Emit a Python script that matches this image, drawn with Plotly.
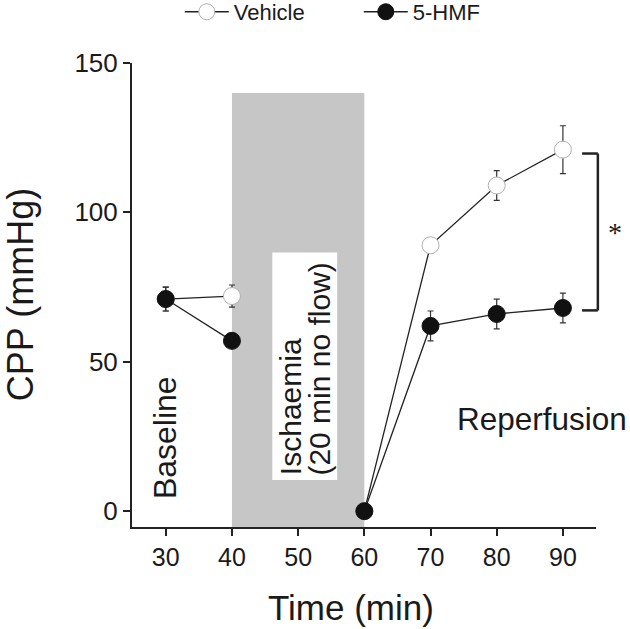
import plotly.graph_objects as go

# time points (min); 50 is left empty so the lines break over the ischaemia
minutes = [30, 40, 50, 60, 70, 80, 90]
vehicle = [71, 72, None, 0, 89, 109, 121]
vehicle_err = [4, 3.7, None, 0, 2.5, 5, 8]
hmf = [71, 57, None, 0, 62, 66, 68]
hmf_err = [4, 2, None, 0, 5, 5, 5]

x_ticks = [30, 40, 50, 60, 70, 80, 90]
y_ticks = [0, 50, 100, 150]

FONT = "Liberation Sans, Arial, Helvetica, sans-serif"

fig = go.Figure()

# Vehicle - open circles
fig.add_trace(go.Scatter(
    x=minutes, y=vehicle, name='Vehicle', mode='lines+markers',
    line=dict(color='#222222', width=1.3),
    marker=dict(size=17, color='white', line=dict(color='#b0b0b0', width=1)),
    error_y=dict(type='data', array=vehicle_err, color='#333333', thickness=1.2, width=3),
    cliponaxis=False,
))

# 5-HMF - filled circles
fig.add_trace(go.Scatter(
    x=minutes, y=hmf, name='5-HMF', mode='lines+markers',
    line=dict(color='#222222', width=1.3),
    marker=dict(size=17, color='#111111', line=dict(color='#111111', width=1)),
    error_y=dict(type='data', array=hmf_err, color='#333333', thickness=1.2, width=3),
    cliponaxis=False,
))

# ischaemia period
fig.add_shape(type='rect', xref='x', yref='y', x0=40, x1=60, y0=-5.3, y1=140,
              fillcolor='#c6c6c6', line=dict(width=0), layer='below')
fig.add_shape(type='rect', xref='x', yref='y', x0=46.1, x1=55.9, y0=10.4, y1=86.6,
              fillcolor='white', line=dict(width=0), layer='below')

# significance bracket
bk = dict(color='#222222', width=2.5)
fig.add_shape(type='line', xref='paper', yref='y', x0=0.970, x1=1.004, y0=119.7, y1=119.7, line=bk)
fig.add_shape(type='line', xref='paper', yref='y', x0=0.970, x1=1.004, y0=67.2, y1=67.2, line=bk)
fig.add_shape(type='line', xref='paper', yref='y', x0=1.004, x1=1.004, y0=119.7, y1=67.2, line=bk)

txt = dict(family=FONT, size=30, color='#1a1a1a')
annotations = [
    dict(x=29.8, y=24.6, xref='x', yref='y', text='Baseline', textangle=-90,
         showarrow=False, font=dict(family=FONT, size=32, color='#1a1a1a'),
         xanchor='center', yanchor='middle'),
    dict(x=48.85, y=11.4, xref='x', yref='y', text='Ischaemia', textangle=-90,
         showarrow=False, font=txt, xanchor='center', yanchor='bottom'),
    dict(x=53.3, y=11.4, xref='x', yref='y', text='(20 min no flow)', textangle=-90,
         showarrow=False, font=txt, xanchor='center', yanchor='bottom'),
    dict(x=86.8, y=30.8, xref='x', yref='y', text='Reperfusion',
         showarrow=False, font=dict(family=FONT, size=31.5, color='#1a1a1a'),
         xanchor='center', yanchor='middle'),
    dict(x=1.041, y=93.3, xref='paper', yref='y', text='*',
         showarrow=False, font=dict(family='Liberation Serif, Times New Roman, serif', size=28, color='#1a1a1a'),
         xanchor='center', yanchor='middle'),
    dict(x=-0.241, y=0.5, xref='paper', yref='paper', text='CPP (mmHg)', textangle=-90,
         showarrow=False, font=dict(family=FONT, size=36, color='#1a1a1a'),
         xanchor='center', yanchor='middle'),
    dict(x=0.472, y=-0.173, xref='paper', yref='paper', text='Time (min)',
         showarrow=False, font=dict(family=FONT, size=35, color='#1a1a1a'),
         xanchor='center', yanchor='middle'),
]

fig.update_layout(
    width=630, height=629,
    margin=dict(l=132, r=34, t=63, b=102),
    plot_bgcolor='white', paper_bgcolor='white',
    font=dict(family=FONT, color='#1a1a1a'),
    showlegend=True,
    legend=dict(orientation='h', xref='paper', yref='container',
                x=0.103, y=0.981, xanchor='left', yanchor='middle',
                font=dict(family=FONT, size=22, color='#1a1a1a'),
                itemwidth=44, entrywidth=120, bgcolor='rgba(0,0,0,0)'),
    xaxis=dict(range=[24.9, 95], tickvals=x_ticks, showgrid=False, zeroline=False,
               showline=True, linecolor='#222222', linewidth=2,
               ticks='outside', ticklen=7, tickwidth=2, tickcolor='#222222',
               tickfont=dict(family=FONT, size=25, color='#1a1a1a')),
    yaxis=dict(range=[-5.3, 150], tickvals=y_ticks, showgrid=False, zeroline=False,
               showline=True, linecolor='#222222', linewidth=2,
               ticks='outside', ticklen=7, tickwidth=2, tickcolor='#222222',
               tickfont=dict(family=FONT, size=26, color='#1a1a1a')),
    annotations=annotations,
)

# drop the browser's default 8px body margin so the figure sits at the window corner
fig.write_html("out.html", config={'displayModeBar': False},
               post_script="document.body.style.margin='0px';")
